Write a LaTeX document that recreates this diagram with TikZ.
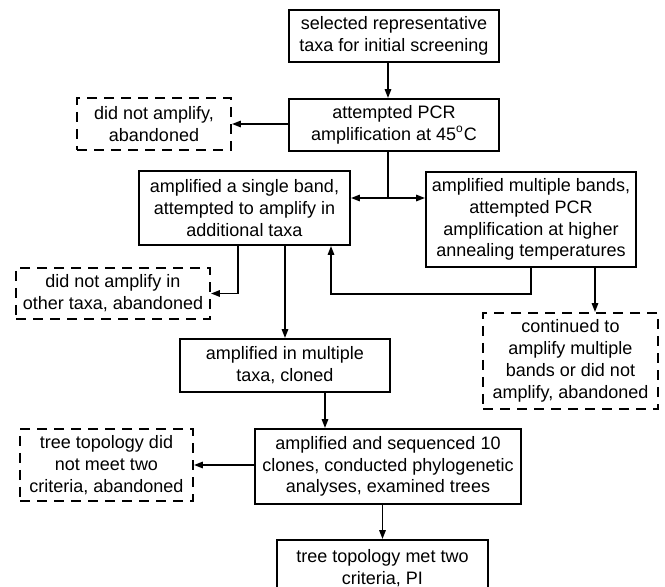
\documentclass[tikz,border=0pt]{standalone}
\usepackage{fontspec}
\setmainfont{Liberation Sans}
\usetikzlibrary{arrows.meta}
\tikzset{
  box/.style={draw, line width=0.9pt, align=center, inner sep=0pt},
  dbox/.style={box, dash pattern=on 5pt off 3.5pt},
  link/.style={line width=0.9pt, ->},
}
\begin{document}
\begin{tikzpicture}[x=0.5pt, y=-0.5pt, >={Triangle[length=4.5pt,width=3.2pt]},
    font=\fontsize{9}{10.9}\selectfont]
  \useasboundingbox (0,0) rectangle (665,587);
  % main chain
  \node[box, minimum width=105pt, minimum height=26pt] (sel) at (394,36)
    {selected representative\\taxa for initial screening};
  \node[box, minimum width=105pt, minimum height=26pt] (pcr) at (394,125)
    {attempted PCR\\amplification at 45\textsuperscript{o}C};
  \node[dbox, minimum width=77pt, minimum height=26pt] (nopcr) at (154,124)
    {did not amplify,\\abandoned};
  \node[box, minimum width=105.5pt, minimum height=37pt] (single) at (244.5,208)
    {amplified a single band,\\attempted to amplify in\\additional taxa};
  \node[box, minimum width=105pt, minimum height=47.5pt] (multi) at (531,219.5)
    {amplified multiple bands,\\attempted PCR\\amplification at higher\\annealing temperatures};
  \node[dbox, minimum width=97pt, minimum height=25.5pt] (noother) at (113,293.5)
    {did not amplify in\\other taxa, abandoned};
  \node[box, minimum width=105pt, minimum height=26.5pt] (cloned) at (285,365.5)
    {amplified in multiple\\taxa, cloned};
  \node[dbox, minimum width=87.5pt, minimum height=48pt] (contin) at (570.5,361)
    {continued to\\amplify multiple\\bands or did not\\amplify, abandoned};
  \node[box, minimum width=133pt, minimum height=37.5pt] (seq) at (388,466.5)
    {amplified and sequenced 10\\clones, conducted phylogenetic\\analyses, examined trees};
  \node[dbox, minimum width=86.5pt, minimum height=36pt] (treefail) at (106.5,465)
    {tree topology did\\not meet two\\criteria, abandoned};
  \node[box, minimum width=105.5pt, minimum height=28pt] (pi) at (382.5,568)
    {tree topology met two\\criteria, PI};
  % turning points
  \coordinate (spine) at (388,198);
  \coordinate (drop) at (238,294);
  \coordinate (back) at (331,294);
  \coordinate (drop2) at (595,0);
  \coordinate (drop3) at (325,0);
  % connectors
  \draw[link] (sel.south -| spine) -- (pcr.north -| spine);
  \draw[link] (pcr.west |- nopcr.east) -- (nopcr.east);
  \draw[line width=0.9pt] (pcr.south -| spine) -- (spine);
  \draw[link, <->] (single.east |- spine) -- (multi.west |- spine);
  \draw[link] (single.south -| drop) |- (noother.east);
  \draw[link] (single.south -| cloned.north) -- (cloned.north);
  \draw[link] (multi.south) |- (back) -- (single.south -| back);
  \draw[link] (multi.south -| drop2) -- (contin.north -| drop2);
  \draw[link] (cloned.south -| drop3) -- (seq.north -| drop3);
  \draw[link] (seq.west |- treefail.east) -- (treefail.east);
  \draw[link] (seq.south -| pi.north) -- (pi.north);
\end{tikzpicture}
\end{document}
